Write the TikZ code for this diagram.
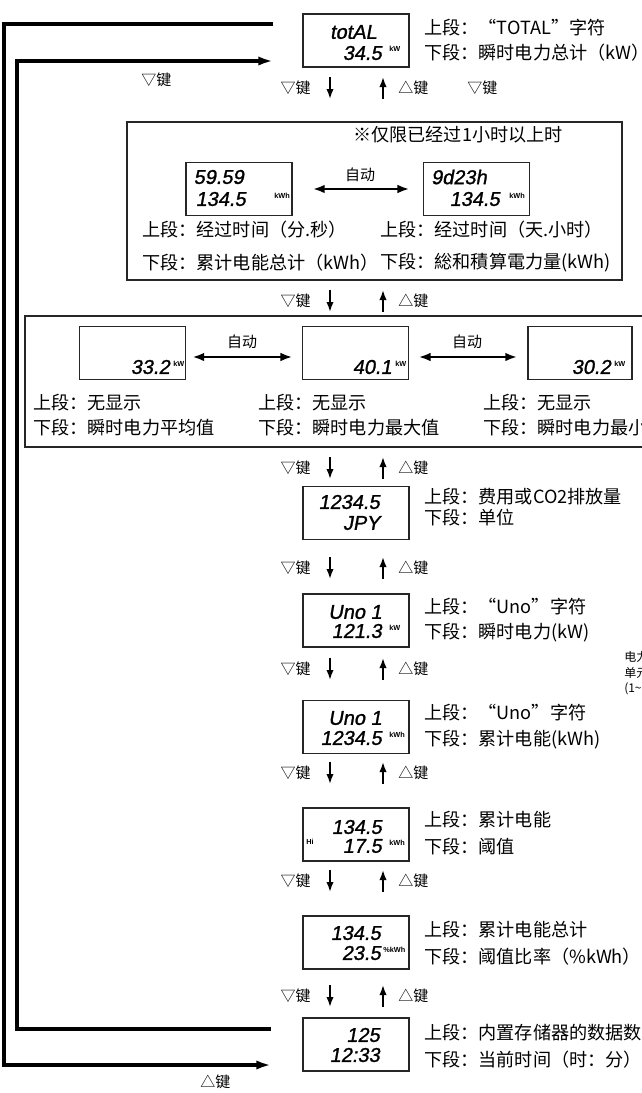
\documentclass[tikz,border=0pt]{standalone}
\usepackage{fontspec}
\setmainfont{Noto Sans CJK SC}
\newfontfamily\segfont{Liberation Sans}[FakeSlant=0.18, FakeBold=1.2]
\newfontfamily\unitfont{Liberation Sans}
\usetikzlibrary{arrows.meta}
\tikzset{
  dispbox/.style={draw=black!85, line width=1.1pt, minimum width=79.5pt, minimum height=39.75pt, inner sep=0pt},
  bigbox/.style={draw=black!85, line width=1.1pt, inner sep=0pt},
  seg/.style={font=\segfont\fontsize{15pt}{15pt}\selectfont, inner sep=0pt, anchor=east},
  unit/.style={font=\unitfont\bfseries\fontsize{5.5pt}{5.5pt}\selectfont, inner sep=0pt, anchor=west},
  txt/.style={font=\fontsize{13.6pt}{14pt}\selectfont, inner sep=0pt, anchor=west},
  lbl/.style={font=\fontsize{11.25pt}{12pt}\selectfont, inner sep=0pt},
  keyarr/.style={line width=1.3pt, -{Latex[length=7.5pt,width=5.5pt]}},
  autoarr/.style={line width=1.8pt, {Latex[length=9pt,width=6.5pt]}-{Latex[length=9pt,width=6.5pt]}},
  loopline/.style={line width=2.4pt, line join=miter, -{Latex[length=11pt,width=7pt]}}
}
\newcommand\keyrow[2]{%
  \node[lbl,anchor=east] (#2dl) at (311,#1) {▽键};
  \node[lbl,anchor=west] (#2ul) at (398,#1) {△键};
  \coordinate (#2d1) at (330,#1-11);
  \coordinate (#2d2) at (330,#1+11);
  \coordinate (#2u1) at (383,#1+11);
  \coordinate (#2u2) at (383,#1-11);
  \draw[keyarr] (#2d1) -- (#2d2);
  \draw[keyarr] (#2u1) -- (#2u2);
}
\begin{document}
\begin{tikzpicture}[x=0.75pt,y=-0.75pt]
\fill[white] (0,0) rectangle (642,1093);
\useasboundingbox (0,0) rectangle (642,1093);

% ---- loop lines on the left
\coordinate (oS) at (273,24);
\coordinate (oC) at (4,1065);
\coordinate (oE) at (271,1065);
\draw[loopline] (oS) -| (oC) -- (oE);
\coordinate (iS) at (271,1029);
\coordinate (iC) at (17,61);
\coordinate (iE) at (273,61);
\draw[loopline] (iS) -| (iC) -- (iE);
\node[lbl,anchor=west] (lblL) at (141,80) {▽键};
\node[lbl,anchor=west] (lblR) at (467,88) {▽键};
\node[lbl,anchor=west] (lblB) at (200,1082) {△键};

% ---- top display
\node[dispbox] (top) at (356,40.5) {};
\node[seg] (topA) at (377,32) {totAL};
\node[seg] (topB) at (382,53) {34.5};
\node[unit] (topU) at (389,49) {kW};
\node[txt] (topT1) at (424,28) {上段：“TOTAL”字符};
\node[txt] (topT2) at (424,53) {下段：瞬时电力总计（kW）};

\keyrow{88}{ra}

% ---- box 1
\node[bigbox, minimum width=371.25pt, minimum height=118.5pt] (b1) at (374.5,201) {};
\node[txt] (b1note) at (353,135) {※仅限已经过1小时以上时};
\node[dispbox] (d1L) at (239,189) {};
\node[seg] (d1La) at (244,177) {59.59};
\node[seg] (d1Lb) at (246,199) {134.5};
\node[unit] (d1Lu) at (274,196) {kWh};
\node[dispbox] (d1R) at (476.5,189) {};
\node[seg] (d1Ra) at (487,177) {9d23h};
\node[seg] (d1Rb) at (500,199) {134.5};
\node[unit] (d1Ru) at (509,196) {kWh};
\draw[autoarr, shorten <=15pt, shorten >=10pt] (d1L.east) -- (d1R.west);
\node[lbl] (auto1) at (360,175) {自动};
\node[txt] (b1t1) at (142,230) {上段：经过时间（分.秒）};
\node[txt] (b1t2) at (142,263) {下段：累计电能总计（kWh）};
\node[txt] (b1t3) at (380,230) {上段：经过时间（天.小时）};
\node[txt] (b1t4) at (380,263) {下段：総和積算電力量(kWh)};

\keyrow{301}{rb}

% ---- box 2
\node[bigbox, minimum width=476.25pt, minimum height=98.25pt] (b2) at (342.5,381.5) {};
\node[dispbox] (d2A) at (132.5,353) {};
\node[seg] (d2Aa) at (170,367) {33.2};
\node[unit] (d2Au) at (173,364) {kW};
\node[dispbox] (d2B) at (355.5,353) {};
\node[seg] (d2Ba) at (392,367) {40.1};
\node[unit] (d2Bu) at (395,364) {kW};
\node[dispbox, minimum width=78pt] (d2C) at (580,353) {};
\node[seg] (d2Ca) at (611,367) {30.2};
\node[unit] (d2Cu) at (614,364) {kW};
\draw[autoarr, shorten <=4.5pt, shorten >=7pt] ([yshift=-3pt]d2A.east) -- ([yshift=-3pt]d2B.west);
\draw[autoarr, shorten <=7pt, shorten >=7.5pt] ([yshift=-3pt]d2B.east) -- ([yshift=-3pt]d2C.west);
\node[lbl] (auto2) at (242,342) {自动};
\node[lbl] (auto3) at (467,342) {自动};
\node[txt] (b2t1) at (33,403) {上段：无显示};
\node[txt] (b2t2) at (33,428) {下段：瞬时电力平均值};
\node[txt] (b2t3) at (258,403) {上段：无显示};
\node[txt] (b2t4) at (258,428) {下段：瞬时电力最大值};
\node[txt] (b2t5) at (483,403) {上段：无显示};
\node[txt] (b2t6) at (483,428) {下段：瞬时电力最小值};

\keyrow{468}{rc}

% ---- JPY
\node[dispbox] (jpy) at (356,513) {};
\node[seg] (jpya) at (380,502) {1234.5};
\node[seg] (jpyb) at (380,523) {JPY};
\node[txt] (jpyt1) at (424,497) {上段：费用或CO2排放量};
\node[txt] (jpyt2) at (424,518) {下段：单位};

\keyrow{568}{rd}

% ---- Uno 1
\node[dispbox] (uno1) at (356,620.5) {};
\node[seg] (uno1a) at (382,612) {Uno 1};
\node[seg] (uno1b) at (382,631) {121.3};
\node[unit] (uno1u) at (389,628) {kW};
\node[txt] (uno1t1) at (424,607) {上段：“Uno”字符};
\node[txt] (uno1t2) at (424,633) {下段：瞬时电力(kW)};

\keyrow{669}{re}

% side note (cut at the edge, as in the reference)
\node[font=\fontsize{9pt}{11pt}\selectfont, inner sep=0pt, anchor=west] (side1) at (624,657) {电力};
\node[font=\fontsize{9pt}{11pt}\selectfont, inner sep=0pt, anchor=west] (side2) at (624,673) {单元};
\node[font=\fontsize{9pt}{11pt}\selectfont, inner sep=0pt, anchor=west] (side3) at (624,689) {(1\textasciitilde};

% ---- Uno 2
\node[dispbox] (uno2) at (356,727) {};
\node[seg] (uno2a) at (382,718) {Uno 1};
\node[seg] (uno2b) at (382,738) {1234.5};
\node[unit] (uno2u) at (389,735) {kWh};
\node[txt] (uno2t1) at (424,713) {上段：“Uno”字符};
\node[txt] (uno2t2) at (424,740) {下段：累计电能(kWh)};

\keyrow{773}{rf}

% ---- Hi
\node[dispbox] (hi) at (356,834.5) {};
\node[seg] (hia) at (382,827) {134.5};
\node[seg] (hib) at (382,846) {17.5};
\node[unit] (hih) at (306,842) {Hi};
\node[unit] (hiu) at (389,843) {kWh};
\node[txt] (hit1) at (424,820) {上段：累计电能};
\node[txt] (hit2) at (424,847) {下段：阈值};

\keyrow{881}{rg}

% ---- %kWh
\node[dispbox] (pct) at (356,942.5) {};
\node[seg] (pcta) at (381,933) {134.5};
\node[seg] (pctb) at (381,953) {23.5};
\node[unit] (pctu) at (383,950) {\%kWh};
\node[txt] (pctt1) at (424,930) {上段：累计电能总计};
\node[txt] (pctt2) at (424,957) {下段：阈值比率（\%kWh）};

\keyrow{996}{rh}

% ---- clock
\node[dispbox] (clk) at (356,1044.5) {};
\node[seg] (clka) at (380,1035) {125};
\node[seg] (clkb) at (380,1055) {12:33};
\node[txt] (clkt1) at (424,1033) {上段：内置存储器的数据数};
\node[txt] (clkt2) at (424,1060) {下段：当前时间（时：分）};
\end{tikzpicture}
\end{document}
